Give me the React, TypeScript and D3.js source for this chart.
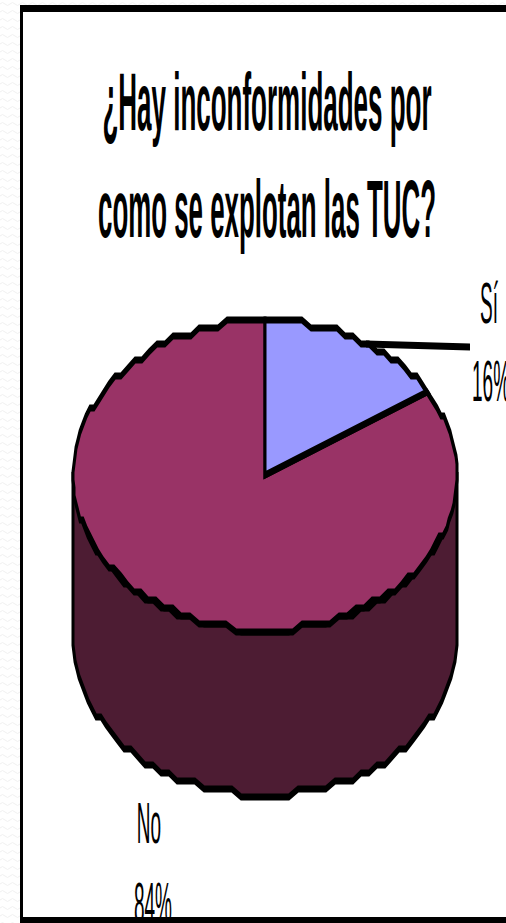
import React from "react";
import * as d3 from "d3";

const categories = ["Sí", "No"];
const values = [16, 84];
const percentLabels = ["16%", "84%"];
const titleLines = ["¿Hay inconformidades por", "como se explotan las TUC?"];
const sliceColors = ["#9999FF", "#993366"];
const sideColor = "#4D1C33";

const W = 506, H = 923;
const cx = 265, cy = 475, rx = 192, ry = 155, depth = 165;
const SY = 2.4; // outline is stretched vertically
const TY = 3;   // text is stretched vertically
const gridY = 8, gridX = 1;

const sx = d3.scaleLinear().domain([-1, 1]).range([cx - rx, cx + rx]);
const sy = d3.scaleLinear().domain([-1, 1]).range([(cy - ry) / SY, (cy + ry) / SY]);
const snap = (v: number, g: number) => Math.round(v / g) * g;

// stepped point on the pie's rim, screen coordinates in the stretched group
const rim = (a: number, dy = 0): [number, number] => {
  const x = sx(Math.sin(a));
  const y = sy(-Math.cos(a)) * SY;
  const q = 320 + snap(y - 320, gridY);
  return [snap(x, gridX), (q + dy) / SY];
};
const arcPts = (a0: number, a1: number, dy = 0) => {
  const n = Math.max(2, Math.ceil(Math.abs(a1 - a0) / 0.05));
  return d3.range(n + 1).map((i) => rim(a0 + ((a1 - a0) * i) / n, dy));
};
const line = d3.line<[number, number]>();
const pieAngles = d3.pie<number>().sort(null)(values);

const Text = ({ x, y, size, weight, anchor, len, children }: any) => (
  <text
    transform={`translate(${x},${y}) scale(1,${TY})`}
    fontFamily="'Liberation Sans', Arial, sans-serif"
    fontSize={size}
    fontWeight={weight}
    textAnchor={anchor}
    textLength={len}
    lengthAdjust={len ? "spacingAndGlyphs" : undefined}
    fill="#000"
  >
    {children}
  </text>
);

export default function App() {
  const centre: [number, number] = [cx, cy / SY];
  const sidePts: [number, number][] = [
    [cx - rx, cy / SY],
    ...arcPts((3 * Math.PI) / 2, Math.PI / 2, depth),
    [cx + rx, cy / SY],
    ...arcPts(Math.PI / 2, (3 * Math.PI) / 2),
  ];
  const a1 = pieAngles[0].endAngle;
  const lead0 = rim(a1 * 0.55);
  return (
    <svg width={W} height={H} viewBox={`0 0 ${W} ${H}`}
      style={{ position: "absolute", left: 0, top: 0, display: "block" }}>
      <defs>
        <pattern id="wave" width="10" height="8" patternUnits="userSpaceOnUse">
          <path d="M0 4 Q2.5 1 5 4 T10 4" fill="none" stroke="#f0f0f0" strokeWidth="1" />
        </pattern>
      </defs>
      <rect width={W} height={H} fill="#fff" />
      <rect width={W} height={H} fill="url(#wave)" />
      <rect x={22} y={8} width={W} height={911} fill="#fff" />

      <g strokeLinejoin="miter" transform={`scale(1,${SY})`} stroke="#000" strokeWidth={3}>
        <path d={line(sidePts) + "Z"} fill={sideColor} />
        <path d={line([centre, ...arcPts(pieAngles[1].startAngle, pieAngles[1].endAngle)]) + "Z"} fill={sliceColors[1]} />
        <path d={line([centre, ...arcPts(pieAngles[0].startAngle, pieAngles[0].endAngle)]) + "Z"} fill={sliceColors[0]} />
        <path d={line([lead0, [470, 347 / SY]])!} fill="none" />
      </g>

      <Text x={267} y={130} size={27} weight={700} anchor="middle" len={329}>{titleLines[0]}</Text>
      <Text x={267} y={237} size={27} weight={700} anchor="middle" len={338}>{titleLines[1]}</Text>

      <Text x={489} y={323} size={19} weight={400} anchor="middle">{categories[0]}</Text>
      <Text x={472} y={401} size={19} weight={400} anchor="start">{percentLabels[0]}</Text>
      <Text x={149} y={843} size={19} weight={400} anchor="middle">{categories[1]}</Text>
      <Text x={153} y={923} size={19} weight={400} anchor="middle">{percentLabels[1]}</Text>

      {/* chart frame, drawn above the clipped label */}
      <rect x={20} y={5} width={3} height={918} fill="#000" />
      <rect x={20} y={5} width={W} height={7} fill="#000" />
      <rect x={20} y={917} width={W} height={6} fill="#000" />
    </svg>
  );
}
